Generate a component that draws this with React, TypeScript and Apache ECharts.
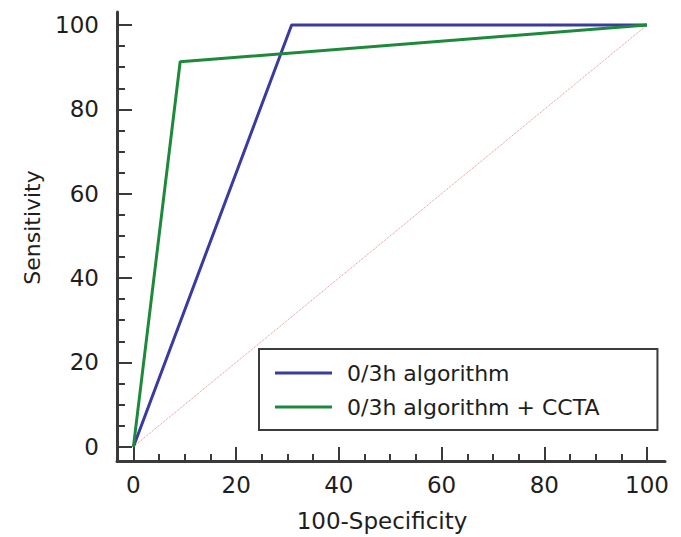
import React, { useEffect, useRef } from "react";
import * as echarts from "echarts";

const seriesNames = ["0/3h algorithm", "0/3h algorithm + CCTA"];
// ROC points: [100-Specificity, Sensitivity]
const algorithmPoints = [
  [0, 0],
  [30.8, 100],
  [100, 100],
];
const algorithmCctaPoints = [
  [0, 0],
  [9.1, 91.3],
  [100, 100],
];
const referencePoints = [
  [0, 0],
  [100, 100],
];
const majorTicks = [0, 20, 40, 60, 80, 100];
const minorTicks = [5, 10, 15, 25, 30, 35, 45, 50, 55, 65, 70, 75, 85, 90, 95];

const FONT = "DejaVu Sans";
const TEXT = "#1e1e1e";
const AXIS = "#3a3a3a";

export default function App() {
  const ref = useRef<HTMLDivElement>(null);
  useEffect(() => {
    if (!ref.current) return;
    const chart = echarts.init(ref.current, null, { renderer: "svg" });
    const xMin = -3.2;
    const xMax = 103.5;
    const yMin = -3.4;
    const yMax = 103.1;
    const baseX = {
      type: "value",
      min: xMin,
      max: xMax,
      position: "bottom",
      splitLine: { show: false },
    };
    const baseY = {
      type: "value",
      min: yMin,
      max: yMax,
      position: "left",
      splitLine: { show: false },
    };
    chart.setOption({
      animation: false,
      backgroundColor: "#ffffff",
      grid: { left: 117, right: 16, top: 12, bottom: 76, containLabel: false },
      xAxis: [
        {
          ...baseX,
          name: "100-Specificity",
          nameLocation: "middle",
          nameGap: 48,
          nameTextStyle: {
            fontFamily: FONT,
            fontSize: 23,
            color: TEXT,
            padding: [0, 18, 0, 0],
          },
          axisLine: { show: true, onZero: false, lineStyle: { color: AXIS, width: 3 } },
          axisTick: {
            show: true,
            inside: true,
            length: 14,
            customValues: majorTicks,
            lineStyle: { color: AXIS, width: 2 },
          },
          axisLabel: {
            show: true,
            customValues: majorTicks,
            margin: 12,
            fontFamily: FONT,
            fontSize: 23,
            color: TEXT,
          },
        },
        {
          ...baseX,
          axisLine: { show: false, onZero: false },
          axisTick: {
            show: true,
            inside: true,
            length: 7,
            customValues: minorTicks,
            lineStyle: { color: AXIS, width: 2 },
          },
          axisLabel: { show: false },
        },
      ],
      yAxis: [
        {
          ...baseY,
          name: "Sensitivity",
          nameLocation: "middle",
          nameGap: 74,
          nameTextStyle: {
            fontFamily: FONT,
            fontSize: 22,
            color: TEXT,
            padding: [0, 0, 0, 18],
          },
          axisLine: { show: true, onZero: false, lineStyle: { color: AXIS, width: 3 } },
          axisTick: {
            show: true,
            inside: true,
            length: 15,
            customValues: majorTicks,
            lineStyle: { color: AXIS, width: 2 },
          },
          axisLabel: {
            show: true,
            customValues: majorTicks,
            margin: 18,
            fontFamily: FONT,
            fontSize: 23,
            color: TEXT,
          },
        },
        {
          ...baseY,
          axisLine: { show: false, onZero: false },
          axisTick: {
            show: true,
            inside: true,
            length: 8,
            customValues: minorTicks,
            lineStyle: { color: AXIS, width: 2 },
          },
          axisLabel: { show: false },
        },
      ],
      legend: {
        data: seriesNames,
        orient: "vertical",
        left: 259,
        top: 349,
        padding: [13, 58, 12, 16],
        itemGap: 12,
        itemWidth: 57,
        itemHeight: 3,
        icon: "rect",
        borderColor: "#3c3c3c",
        borderWidth: 2,
        backgroundColor: "#ffffff",
        textStyle: {
          fontFamily: FONT,
          fontSize: 22,
          color: TEXT,
          padding: [0, 0, 0, 10],
        },
      },
      series: [
        {
          name: "reference",
          type: "line",
          data: referencePoints,
          symbol: "none",
          silent: true,
          lineStyle: { color: "#e48a8a", width: 1, type: "dotted" },
        },
        {
          name: seriesNames[0],
          type: "line",
          data: algorithmPoints,
          symbol: "none",
          color: "#3a3aa0",
          lineStyle: { color: "#3a3aa0", width: 3 },
        },
        {
          name: seriesNames[1],
          type: "line",
          data: algorithmCctaPoints,
          symbol: "none",
          color: "#1c8a3a",
          lineStyle: { color: "#1c8a3a", width: 3 },
        },
      ],
    });
    return () => chart.dispose();
  }, []);
  return (
    <div
      ref={ref}
      style={{ position: "fixed", left: 0, top: 0, width: 681, height: 537 }}
    />
  );
}
